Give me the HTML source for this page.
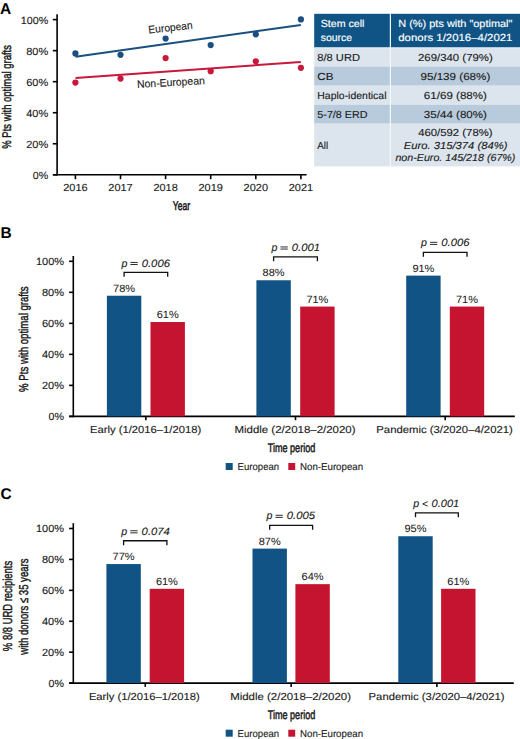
<!DOCTYPE html>
<html><head><meta charset="utf-8"><style>
html,body{margin:0;padding:0;background:#fff;}
body{width:520px;height:739px;overflow:hidden;}
svg{display:block;font-family:"Liberation Sans",sans-serif;}
svg text{text-rendering:geometricPrecision;}
</style></head><body>
<svg width="520" height="739" viewBox="0 0 520 739">
<text x="0.10" y="13.90" font-size="15.5" fill="#000" font-weight="bold" >A</text>
<line x1="57.10" y1="14.30" x2="57.10" y2="175.55" stroke="#000" stroke-width="1.6"/>
<line x1="53.00" y1="174.80" x2="306.60" y2="174.80" stroke="#000" stroke-width="1.6"/>
<line x1="52.80" y1="174.80" x2="57.10" y2="174.80" stroke="#000" stroke-width="1.6"/>
<text x="48.20" y="178.80" font-size="10.4" text-anchor="end" fill="#1a1a1a" stroke="#1a1a1a" stroke-width="0.12" textLength="15.40" lengthAdjust="spacingAndGlyphs" >0%</text>
<line x1="52.80" y1="143.76" x2="57.10" y2="143.76" stroke="#000" stroke-width="1.6"/>
<text x="48.20" y="147.76" font-size="10.4" text-anchor="end" fill="#1a1a1a" stroke="#1a1a1a" stroke-width="0.12" textLength="22.00" lengthAdjust="spacingAndGlyphs" >20%</text>
<line x1="52.80" y1="112.72" x2="57.10" y2="112.72" stroke="#000" stroke-width="1.6"/>
<text x="48.20" y="116.72" font-size="10.4" text-anchor="end" fill="#1a1a1a" stroke="#1a1a1a" stroke-width="0.12" textLength="22.00" lengthAdjust="spacingAndGlyphs" >40%</text>
<line x1="52.80" y1="81.68" x2="57.10" y2="81.68" stroke="#000" stroke-width="1.6"/>
<text x="48.20" y="85.68" font-size="10.4" text-anchor="end" fill="#1a1a1a" stroke="#1a1a1a" stroke-width="0.12" textLength="22.00" lengthAdjust="spacingAndGlyphs" >60%</text>
<line x1="52.80" y1="50.64" x2="57.10" y2="50.64" stroke="#000" stroke-width="1.6"/>
<text x="48.20" y="54.64" font-size="10.4" text-anchor="end" fill="#1a1a1a" stroke="#1a1a1a" stroke-width="0.12" textLength="22.00" lengthAdjust="spacingAndGlyphs" >80%</text>
<line x1="52.80" y1="19.60" x2="57.10" y2="19.60" stroke="#000" stroke-width="1.6"/>
<text x="48.20" y="23.60" font-size="10.4" text-anchor="end" fill="#1a1a1a" stroke="#1a1a1a" stroke-width="0.12" textLength="27.40" lengthAdjust="spacingAndGlyphs" >100%</text>
<line x1="75.40" y1="174.80" x2="75.40" y2="179.20" stroke="#000" stroke-width="1.6"/>
<text x="75.40" y="190.90" font-size="10.2" text-anchor="middle" fill="#1a1a1a" stroke="#1a1a1a" stroke-width="0.12" textLength="24.40" lengthAdjust="spacingAndGlyphs" >2016</text>
<line x1="120.50" y1="174.80" x2="120.50" y2="179.20" stroke="#000" stroke-width="1.6"/>
<text x="120.50" y="190.90" font-size="10.2" text-anchor="middle" fill="#1a1a1a" stroke="#1a1a1a" stroke-width="0.12" textLength="24.40" lengthAdjust="spacingAndGlyphs" >2017</text>
<line x1="165.60" y1="174.80" x2="165.60" y2="179.20" stroke="#000" stroke-width="1.6"/>
<text x="165.60" y="190.90" font-size="10.2" text-anchor="middle" fill="#1a1a1a" stroke="#1a1a1a" stroke-width="0.12" textLength="24.40" lengthAdjust="spacingAndGlyphs" >2018</text>
<line x1="210.70" y1="174.80" x2="210.70" y2="179.20" stroke="#000" stroke-width="1.6"/>
<text x="210.70" y="190.90" font-size="10.2" text-anchor="middle" fill="#1a1a1a" stroke="#1a1a1a" stroke-width="0.12" textLength="24.40" lengthAdjust="spacingAndGlyphs" >2019</text>
<line x1="255.80" y1="174.80" x2="255.80" y2="179.20" stroke="#000" stroke-width="1.6"/>
<text x="255.80" y="190.90" font-size="10.2" text-anchor="middle" fill="#1a1a1a" stroke="#1a1a1a" stroke-width="0.12" textLength="24.40" lengthAdjust="spacingAndGlyphs" >2020</text>
<line x1="300.90" y1="174.80" x2="300.90" y2="179.20" stroke="#000" stroke-width="1.6"/>
<text x="300.90" y="190.90" font-size="10.2" text-anchor="middle" fill="#1a1a1a" stroke="#1a1a1a" stroke-width="0.12" textLength="24.40" lengthAdjust="spacingAndGlyphs" >2021</text>
<text x="181.50" y="209.60" font-size="12.6" text-anchor="middle" fill="#1a1a1a" stroke="#1a1a1a" stroke-width="0.55" textLength="17.30" lengthAdjust="spacingAndGlyphs" >Year</text>
<text transform="translate(11.40,96.90) rotate(-90)" font-size="12.6" text-anchor="middle" fill="#1a1a1a" stroke="#1a1a1a" stroke-width="0.45" textLength="103.6" lengthAdjust="spacingAndGlyphs">% Pts with optimal grafts</text>
<line x1="75.50" y1="56.80" x2="300.80" y2="25.00" stroke="#1a4f80" stroke-width="2.0"/>
<line x1="75.50" y1="77.90" x2="300.80" y2="62.00" stroke="#c8193c" stroke-width="2.0"/>
<circle cx="75.40" cy="53.43" r="3.1" fill="#1a4f80"/>
<circle cx="75.40" cy="82.61" r="3.1" fill="#c8193c"/>
<circle cx="120.50" cy="54.83" r="3.1" fill="#1a4f80"/>
<circle cx="120.50" cy="78.58" r="3.1" fill="#c8193c"/>
<circle cx="165.60" cy="38.53" r="3.1" fill="#1a4f80"/>
<circle cx="165.60" cy="58.09" r="3.1" fill="#c8193c"/>
<circle cx="210.70" cy="45.05" r="3.1" fill="#1a4f80"/>
<circle cx="210.70" cy="71.13" r="3.1" fill="#c8193c"/>
<circle cx="255.80" cy="34.34" r="3.1" fill="#1a4f80"/>
<circle cx="255.80" cy="61.35" r="3.1" fill="#c8193c"/>
<circle cx="300.90" cy="19.44" r="3.1" fill="#1a4f80"/>
<circle cx="300.90" cy="67.87" r="3.1" fill="#c8193c"/>
<text font-size="10.7" fill="#1a1a1a" stroke="#1a1a1a" stroke-width="0.12" transform="translate(148.8,33.5) rotate(-6.3)" textLength="44.4" lengthAdjust="spacingAndGlyphs">European</text>
<text font-size="10.7" fill="#1a1a1a" stroke="#1a1a1a" stroke-width="0.12" transform="translate(137.3,88.0) rotate(-3.3)" textLength="67.8" lengthAdjust="spacingAndGlyphs">Non-European</text>
<rect x="314.20" y="13.80" width="205.80" height="33.80" fill="#105485"/>
<rect x="314.20" y="47.60" width="205.80" height="19.00" fill="#dce4ed"/>
<rect x="314.20" y="66.60" width="205.80" height="19.10" fill="#b8cbdc"/>
<rect x="314.20" y="85.70" width="205.80" height="19.00" fill="#dce4ed"/>
<rect x="314.20" y="104.70" width="205.80" height="19.00" fill="#b8cbdc"/>
<rect x="314.20" y="123.70" width="205.80" height="42.70" fill="#dce4ed"/>
<rect x="314.20" y="47.60" width="205.80" height="1.00" fill="#e6ecf2"/>
<rect x="389.80" y="13.80" width="1.20" height="152.60" fill="#f4f8fb"/>
<text x="320.70" y="27.30" font-size="10.3" fill="#fff" stroke="#fff" stroke-width="0.15" textLength="43.80" lengthAdjust="spacingAndGlyphs" >Stem cell</text>
<text x="320.70" y="40.50" font-size="10.3" fill="#fff" stroke="#fff" stroke-width="0.15" textLength="31.40" lengthAdjust="spacingAndGlyphs" >source</text>
<text x="398.25" y="27.20" font-size="10.3" fill="#fff" stroke="#fff" stroke-width="0.15" textLength="114.20" lengthAdjust="spacingAndGlyphs" >N (%) pts with "optimal"</text>
<text x="398.25" y="40.50" font-size="10.3" fill="#fff" stroke="#fff" stroke-width="0.15" textLength="114.20" lengthAdjust="spacingAndGlyphs" >donors 1/2016–4/2021</text>
<text x="317.30" y="60.80" font-size="10.2" fill="#1a1a1a" stroke="#1a1a1a" stroke-width="0.12" textLength="42.70" lengthAdjust="spacingAndGlyphs" >8/8 URD</text>
<text x="455.40" y="60.80" font-size="10.2" text-anchor="middle" fill="#1a1a1a" stroke="#1a1a1a" stroke-width="0.12" textLength="74.90" lengthAdjust="spacingAndGlyphs" >269/340 (79%)</text>
<text x="317.30" y="79.80" font-size="10.2" fill="#1a1a1a" stroke="#1a1a1a" stroke-width="0.12" textLength="16.10" lengthAdjust="spacingAndGlyphs" >CB</text>
<text x="455.40" y="79.80" font-size="10.2" text-anchor="middle" fill="#1a1a1a" stroke="#1a1a1a" stroke-width="0.12" textLength="69.80" lengthAdjust="spacingAndGlyphs" >95/139 (68%)</text>
<text x="317.30" y="99.00" font-size="10.2" fill="#1a1a1a" stroke="#1a1a1a" stroke-width="0.12" textLength="69.20" lengthAdjust="spacingAndGlyphs" >Haplo-identical</text>
<text x="455.40" y="99.00" font-size="10.2" text-anchor="middle" fill="#1a1a1a" stroke="#1a1a1a" stroke-width="0.12" textLength="63.10" lengthAdjust="spacingAndGlyphs" >61/69 (88%)</text>
<text x="317.30" y="118.40" font-size="10.2" fill="#1a1a1a" stroke="#1a1a1a" stroke-width="0.12" textLength="50.30" lengthAdjust="spacingAndGlyphs" >5-7/8 ERD</text>
<text x="455.40" y="118.40" font-size="10.2" text-anchor="middle" fill="#1a1a1a" stroke="#1a1a1a" stroke-width="0.12" textLength="63.10" lengthAdjust="spacingAndGlyphs" >35/44 (80%)</text>
<text x="317.30" y="149.10" font-size="10.2" fill="#1a1a1a" stroke="#1a1a1a" stroke-width="0.12" textLength="10.90" lengthAdjust="spacingAndGlyphs" >All</text>
<text x="455.40" y="135.60" font-size="10.2" text-anchor="middle" fill="#1a1a1a" stroke="#1a1a1a" stroke-width="0.12" textLength="74.50" lengthAdjust="spacingAndGlyphs" >460/592 (78%)</text>
<text x="455.60" y="148.90" font-size="10.2" text-anchor="middle" fill="#1a1a1a" stroke="#1a1a1a" stroke-width="0.12" textLength="103.70" lengthAdjust="spacingAndGlyphs" font-style="italic" >Euro. 315/374 (84%)</text>
<text x="455.40" y="161.40" font-size="10.2" text-anchor="middle" fill="#1a1a1a" stroke="#1a1a1a" stroke-width="0.12" textLength="120.00" lengthAdjust="spacingAndGlyphs" font-style="italic" >non-Euro. 145/218 (67%)</text>
<text x="0.60" y="237.90" font-size="15.5" fill="#000" font-weight="bold" >B</text>
<line x1="73.30" y1="256.00" x2="73.30" y2="417.15" stroke="#000" stroke-width="1.6"/>
<line x1="69.10" y1="416.40" x2="514.80" y2="416.40" stroke="#000" stroke-width="1.6"/>
<line x1="69.10" y1="416.40" x2="73.30" y2="416.40" stroke="#000" stroke-width="1.6"/>
<text x="64.00" y="420.30" font-size="10.4" text-anchor="end" fill="#1a1a1a" stroke="#1a1a1a" stroke-width="0.12" textLength="15.40" lengthAdjust="spacingAndGlyphs" >0%</text>
<line x1="69.10" y1="385.38" x2="73.30" y2="385.38" stroke="#000" stroke-width="1.6"/>
<text x="64.00" y="389.28" font-size="10.4" text-anchor="end" fill="#1a1a1a" stroke="#1a1a1a" stroke-width="0.12" textLength="22.00" lengthAdjust="spacingAndGlyphs" >20%</text>
<line x1="69.10" y1="354.36" x2="73.30" y2="354.36" stroke="#000" stroke-width="1.6"/>
<text x="64.00" y="358.26" font-size="10.4" text-anchor="end" fill="#1a1a1a" stroke="#1a1a1a" stroke-width="0.12" textLength="22.00" lengthAdjust="spacingAndGlyphs" >40%</text>
<line x1="69.10" y1="323.34" x2="73.30" y2="323.34" stroke="#000" stroke-width="1.6"/>
<text x="64.00" y="327.24" font-size="10.4" text-anchor="end" fill="#1a1a1a" stroke="#1a1a1a" stroke-width="0.12" textLength="22.00" lengthAdjust="spacingAndGlyphs" >60%</text>
<line x1="69.10" y1="292.32" x2="73.30" y2="292.32" stroke="#000" stroke-width="1.6"/>
<text x="64.00" y="296.22" font-size="10.4" text-anchor="end" fill="#1a1a1a" stroke="#1a1a1a" stroke-width="0.12" textLength="22.00" lengthAdjust="spacingAndGlyphs" >80%</text>
<line x1="69.10" y1="261.30" x2="73.30" y2="261.30" stroke="#000" stroke-width="1.6"/>
<text x="64.00" y="265.20" font-size="10.4" text-anchor="end" fill="#1a1a1a" stroke="#1a1a1a" stroke-width="0.12" textLength="28.00" lengthAdjust="spacingAndGlyphs" >100%</text>
<rect x="106.90" y="295.73" width="34.40" height="120.67" fill="#115384"/>
<rect x="150.50" y="322.03" width="34.40" height="94.37" fill="#c5142f"/>
<line x1="145.90" y1="416.40" x2="145.90" y2="420.20" stroke="#000" stroke-width="1.6"/>
<text x="145.60" y="433.40" font-size="10.2" text-anchor="middle" fill="#1a1a1a" stroke="#1a1a1a" stroke-width="0.12" textLength="111.20" lengthAdjust="spacingAndGlyphs" >Early (1/2016–1/2018)</text>
<text x="124.10" y="291.93" font-size="10.5" text-anchor="middle" fill="#1a1a1a" stroke="#1a1a1a" stroke-width="0.05" textLength="22.00" lengthAdjust="spacingAndGlyphs" >78%</text>
<text x="167.70" y="318.23" font-size="10.5" text-anchor="middle" fill="#1a1a1a" stroke="#1a1a1a" stroke-width="0.05" textLength="22.00" lengthAdjust="spacingAndGlyphs" >61%</text>
<path d="M124.10,276.83 V272.43 H167.70 V276.83" fill="none" stroke="#111" stroke-width="1.3"/>
<text x="121.40" y="266.53" font-size="10.6" fill="#1a1a1a" stroke="#1a1a1a" stroke-width="0.12" font-style="italic" >p</text>
<line x1="130.40" y1="262.43" x2="137.70" y2="262.43" stroke="#222" stroke-width="0.95"/>
<line x1="130.40" y1="264.53" x2="137.70" y2="264.53" stroke="#222" stroke-width="0.95"/>
<text x="141.70" y="266.53" font-size="10.6" fill="#1a1a1a" stroke="#1a1a1a" stroke-width="0.12" textLength="28.30" lengthAdjust="spacingAndGlyphs" font-style="italic" >0.006</text>
<rect x="256.40" y="280.26" width="34.40" height="136.14" fill="#115384"/>
<rect x="300.20" y="306.56" width="34.40" height="109.84" fill="#c5142f"/>
<line x1="295.50" y1="416.40" x2="295.50" y2="420.20" stroke="#000" stroke-width="1.6"/>
<text x="295.00" y="433.40" font-size="10.2" text-anchor="middle" fill="#1a1a1a" stroke="#1a1a1a" stroke-width="0.12" textLength="121.20" lengthAdjust="spacingAndGlyphs" >Middle (2/2018–2/2020)</text>
<text x="273.60" y="276.46" font-size="10.5" text-anchor="middle" fill="#1a1a1a" stroke="#1a1a1a" stroke-width="0.05" textLength="22.00" lengthAdjust="spacingAndGlyphs" >88%</text>
<text x="317.40" y="302.76" font-size="10.5" text-anchor="middle" fill="#1a1a1a" stroke="#1a1a1a" stroke-width="0.05" textLength="22.00" lengthAdjust="spacingAndGlyphs" >71%</text>
<path d="M273.60,261.36 V256.96 H317.40 V261.36" fill="none" stroke="#111" stroke-width="1.3"/>
<text x="271.50" y="251.06" font-size="10.6" fill="#1a1a1a" stroke="#1a1a1a" stroke-width="0.12" font-style="italic" >p</text>
<line x1="280.50" y1="246.96" x2="287.80" y2="246.96" stroke="#222" stroke-width="0.95"/>
<line x1="280.50" y1="249.06" x2="287.80" y2="249.06" stroke="#222" stroke-width="0.95"/>
<text x="291.80" y="251.06" font-size="10.6" fill="#1a1a1a" stroke="#1a1a1a" stroke-width="0.12" textLength="28.30" lengthAdjust="spacingAndGlyphs" font-style="italic" >0.001</text>
<rect x="406.20" y="275.62" width="34.40" height="140.78" fill="#115384"/>
<rect x="449.80" y="306.56" width="34.40" height="109.84" fill="#c5142f"/>
<line x1="445.20" y1="416.40" x2="445.20" y2="420.20" stroke="#000" stroke-width="1.6"/>
<text x="444.55" y="433.40" font-size="10.2" text-anchor="middle" fill="#1a1a1a" stroke="#1a1a1a" stroke-width="0.12" textLength="136.50" lengthAdjust="spacingAndGlyphs" >Pandemic (3/2020–4/2021)</text>
<text x="423.40" y="271.82" font-size="10.5" text-anchor="middle" fill="#1a1a1a" stroke="#1a1a1a" stroke-width="0.05" textLength="22.00" lengthAdjust="spacingAndGlyphs" >91%</text>
<text x="467.00" y="302.76" font-size="10.5" text-anchor="middle" fill="#1a1a1a" stroke="#1a1a1a" stroke-width="0.05" textLength="22.00" lengthAdjust="spacingAndGlyphs" >71%</text>
<path d="M423.40,256.72 V252.32 H467.00 V256.72" fill="none" stroke="#111" stroke-width="1.3"/>
<text x="421.00" y="246.42" font-size="10.6" fill="#1a1a1a" stroke="#1a1a1a" stroke-width="0.12" font-style="italic" >p</text>
<line x1="430.00" y1="242.32" x2="437.30" y2="242.32" stroke="#222" stroke-width="0.95"/>
<line x1="430.00" y1="244.42" x2="437.30" y2="244.42" stroke="#222" stroke-width="0.95"/>
<text x="441.30" y="246.42" font-size="10.6" fill="#1a1a1a" stroke="#1a1a1a" stroke-width="0.12" textLength="28.30" lengthAdjust="spacingAndGlyphs" font-style="italic" >0.006</text>
<text x="291.50" y="452.00" font-size="12.4" text-anchor="middle" fill="#1a1a1a" stroke="#1a1a1a" stroke-width="0.5" textLength="47.50" lengthAdjust="spacingAndGlyphs" >Time period</text>
<rect x="225.70" y="463.00" width="7.00" height="7.00" fill="#115384"/>
<text x="237.60" y="469.80" font-size="10.0" fill="#1a1a1a" stroke="#1a1a1a" stroke-width="0.12" textLength="41.50" lengthAdjust="spacingAndGlyphs" >European</text>
<rect x="288.30" y="463.00" width="6.90" height="7.00" fill="#c5142f"/>
<text x="300.00" y="469.80" font-size="10.0" fill="#1a1a1a" stroke="#1a1a1a" stroke-width="0.12" textLength="63.10" lengthAdjust="spacingAndGlyphs" >Non-European</text>
<text x="0.60" y="498.50" font-size="15.5" fill="#000" font-weight="bold" >C</text>
<line x1="73.30" y1="523.20" x2="73.30" y2="683.85" stroke="#000" stroke-width="1.6"/>
<line x1="69.10" y1="683.10" x2="513.80" y2="683.10" stroke="#000" stroke-width="1.6"/>
<line x1="69.10" y1="683.10" x2="73.30" y2="683.10" stroke="#000" stroke-width="1.6"/>
<text x="64.00" y="687.00" font-size="10.4" text-anchor="end" fill="#1a1a1a" stroke="#1a1a1a" stroke-width="0.12" textLength="15.40" lengthAdjust="spacingAndGlyphs" >0%</text>
<line x1="69.10" y1="652.18" x2="73.30" y2="652.18" stroke="#000" stroke-width="1.6"/>
<text x="64.00" y="656.08" font-size="10.4" text-anchor="end" fill="#1a1a1a" stroke="#1a1a1a" stroke-width="0.12" textLength="22.00" lengthAdjust="spacingAndGlyphs" >20%</text>
<line x1="69.10" y1="621.26" x2="73.30" y2="621.26" stroke="#000" stroke-width="1.6"/>
<text x="64.00" y="625.16" font-size="10.4" text-anchor="end" fill="#1a1a1a" stroke="#1a1a1a" stroke-width="0.12" textLength="22.00" lengthAdjust="spacingAndGlyphs" >40%</text>
<line x1="69.10" y1="590.34" x2="73.30" y2="590.34" stroke="#000" stroke-width="1.6"/>
<text x="64.00" y="594.24" font-size="10.4" text-anchor="end" fill="#1a1a1a" stroke="#1a1a1a" stroke-width="0.12" textLength="22.00" lengthAdjust="spacingAndGlyphs" >60%</text>
<line x1="69.10" y1="559.42" x2="73.30" y2="559.42" stroke="#000" stroke-width="1.6"/>
<text x="64.00" y="563.32" font-size="10.4" text-anchor="end" fill="#1a1a1a" stroke="#1a1a1a" stroke-width="0.12" textLength="22.00" lengthAdjust="spacingAndGlyphs" >80%</text>
<line x1="69.10" y1="528.50" x2="73.30" y2="528.50" stroke="#000" stroke-width="1.6"/>
<text x="64.00" y="532.40" font-size="10.4" text-anchor="end" fill="#1a1a1a" stroke="#1a1a1a" stroke-width="0.12" textLength="28.00" lengthAdjust="spacingAndGlyphs" >100%</text>
<rect x="106.40" y="564.06" width="34.40" height="119.04" fill="#115384"/>
<rect x="149.70" y="588.79" width="34.40" height="94.31" fill="#c5142f"/>
<line x1="145.25" y1="683.10" x2="145.25" y2="686.90" stroke="#000" stroke-width="1.6"/>
<text x="144.35" y="700.10" font-size="10.2" text-anchor="middle" fill="#1a1a1a" stroke="#1a1a1a" stroke-width="0.12" textLength="110.90" lengthAdjust="spacingAndGlyphs" >Early (1/2016–1/2018)</text>
<text x="123.60" y="560.26" font-size="10.5" text-anchor="middle" fill="#1a1a1a" stroke="#1a1a1a" stroke-width="0.05" textLength="22.00" lengthAdjust="spacingAndGlyphs" >77%</text>
<text x="166.90" y="584.99" font-size="10.5" text-anchor="middle" fill="#1a1a1a" stroke="#1a1a1a" stroke-width="0.05" textLength="22.00" lengthAdjust="spacingAndGlyphs" >61%</text>
<path d="M123.60,545.16 V540.76 H166.90 V545.16" fill="none" stroke="#111" stroke-width="1.3"/>
<text x="121.30" y="534.86" font-size="10.6" fill="#1a1a1a" stroke="#1a1a1a" stroke-width="0.12" font-style="italic" >p</text>
<line x1="130.30" y1="530.76" x2="137.60" y2="530.76" stroke="#222" stroke-width="0.95"/>
<line x1="130.30" y1="532.86" x2="137.60" y2="532.86" stroke="#222" stroke-width="0.95"/>
<text x="141.60" y="534.86" font-size="10.6" fill="#1a1a1a" stroke="#1a1a1a" stroke-width="0.12" textLength="28.30" lengthAdjust="spacingAndGlyphs" font-style="italic" >0.074</text>
<rect x="252.50" y="548.60" width="34.40" height="134.50" fill="#115384"/>
<rect x="295.40" y="584.16" width="34.40" height="98.94" fill="#c5142f"/>
<line x1="291.15" y1="683.10" x2="291.15" y2="686.90" stroke="#000" stroke-width="1.6"/>
<text x="290.60" y="700.10" font-size="10.2" text-anchor="middle" fill="#1a1a1a" stroke="#1a1a1a" stroke-width="0.12" textLength="120.80" lengthAdjust="spacingAndGlyphs" >Middle (2/2018–2/2020)</text>
<text x="269.70" y="544.80" font-size="10.5" text-anchor="middle" fill="#1a1a1a" stroke="#1a1a1a" stroke-width="0.05" textLength="22.00" lengthAdjust="spacingAndGlyphs" >87%</text>
<text x="312.60" y="580.36" font-size="10.5" text-anchor="middle" fill="#1a1a1a" stroke="#1a1a1a" stroke-width="0.05" textLength="22.00" lengthAdjust="spacingAndGlyphs" >64%</text>
<path d="M269.70,529.70 V525.30 H312.60 V529.70" fill="none" stroke="#111" stroke-width="1.3"/>
<text x="266.50" y="519.40" font-size="10.6" fill="#1a1a1a" stroke="#1a1a1a" stroke-width="0.12" font-style="italic" >p</text>
<line x1="275.50" y1="515.30" x2="282.80" y2="515.30" stroke="#222" stroke-width="0.95"/>
<line x1="275.50" y1="517.40" x2="282.80" y2="517.40" stroke="#222" stroke-width="0.95"/>
<text x="286.80" y="519.40" font-size="10.6" fill="#1a1a1a" stroke="#1a1a1a" stroke-width="0.12" textLength="28.30" lengthAdjust="spacingAndGlyphs" font-style="italic" >0.005</text>
<rect x="398.30" y="536.23" width="34.40" height="146.87" fill="#115384"/>
<rect x="441.10" y="588.79" width="34.40" height="94.31" fill="#c5142f"/>
<line x1="436.90" y1="683.10" x2="436.90" y2="686.90" stroke="#000" stroke-width="1.6"/>
<text x="436.60" y="700.10" font-size="10.2" text-anchor="middle" fill="#1a1a1a" stroke="#1a1a1a" stroke-width="0.12" textLength="136.00" lengthAdjust="spacingAndGlyphs" >Pandemic (3/2020–4/2021)</text>
<text x="415.50" y="532.43" font-size="10.5" text-anchor="middle" fill="#1a1a1a" stroke="#1a1a1a" stroke-width="0.05" textLength="22.00" lengthAdjust="spacingAndGlyphs" >95%</text>
<text x="458.30" y="584.99" font-size="10.5" text-anchor="middle" fill="#1a1a1a" stroke="#1a1a1a" stroke-width="0.05" textLength="22.00" lengthAdjust="spacingAndGlyphs" >61%</text>
<path d="M415.50,517.33 V512.93 H458.30 V517.33" fill="none" stroke="#111" stroke-width="1.3"/>
<text x="413.30" y="507.03" font-size="10.6" fill="#1a1a1a" stroke="#1a1a1a" stroke-width="0.12" font-style="italic" >p</text>
<path d="M427.70,501.73 L422.70,503.93 L427.70,506.13" fill="none" stroke="#222" stroke-width="0.95"/>
<text x="431.50" y="507.03" font-size="10.6" fill="#1a1a1a" stroke="#1a1a1a" stroke-width="0.12" textLength="27.70" lengthAdjust="spacingAndGlyphs" font-style="italic" >0.001</text>
<text x="291.50" y="718.70" font-size="12.4" text-anchor="middle" fill="#1a1a1a" stroke="#1a1a1a" stroke-width="0.5" textLength="47.50" lengthAdjust="spacingAndGlyphs" >Time period</text>
<rect x="225.70" y="729.70" width="7.00" height="7.00" fill="#115384"/>
<text x="237.60" y="736.50" font-size="10.0" fill="#1a1a1a" stroke="#1a1a1a" stroke-width="0.12" textLength="41.50" lengthAdjust="spacingAndGlyphs" >European</text>
<rect x="288.30" y="729.70" width="6.90" height="7.00" fill="#c5142f"/>
<text x="300.00" y="736.50" font-size="10.0" fill="#1a1a1a" stroke="#1a1a1a" stroke-width="0.12" textLength="63.10" lengthAdjust="spacingAndGlyphs" >Non-European</text>
<text transform="translate(27.60,339.20) rotate(-90)" font-size="12.9" text-anchor="middle" fill="#1a1a1a" stroke="#1a1a1a" stroke-width="0.45" textLength="105.5" lengthAdjust="spacingAndGlyphs">% Pts with optimal grafts</text>
<text transform="translate(11.80,606.00) rotate(-90)" font-size="13.0" text-anchor="middle" fill="#1a1a1a" stroke="#1a1a1a" stroke-width="0.45" textLength="90.3" lengthAdjust="spacingAndGlyphs">% 8/8 URD recipients</text>
<text transform="translate(27.60,606.60) rotate(-90)" font-size="12.8" text-anchor="middle" fill="#1a1a1a" stroke="#1a1a1a" stroke-width="0.45" textLength="96.2" lengthAdjust="spacingAndGlyphs">with donors ≤ 35 years</text>
</svg>
</body></html>
